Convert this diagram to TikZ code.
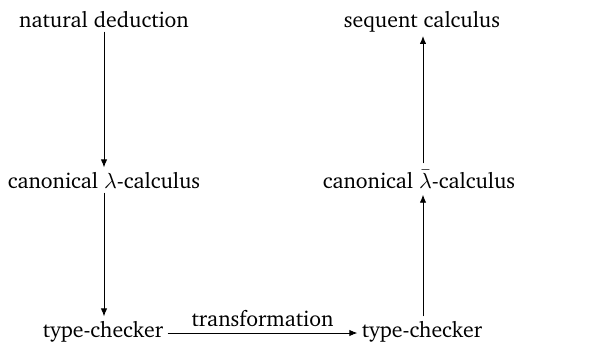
\documentclass[tikz,border=0pt]{standalone}
\usepackage[T1]{fontenc}
\usepackage{charter}
\usetikzlibrary{arrows.meta}
\begin{document}
\begin{tikzpicture}[x=0.5pt,y=-0.5pt,
  lbl/.style={inner sep=2pt, font=\fontsize{10.9}{13}\selectfont},
  arr/.style={-{Latex[length=4pt,width=3.2pt]}, line width=0.45pt}]
\useasboundingbox (0,0) rectangle (610,349);
\node[lbl, anchor=base] (nd) at (104,27) {natural deduction};
\node[lbl, anchor=base] (cl) at (104,188) {canonical $\lambda$-calculus};
\node[lbl, anchor=base] (tc1) at (103,337) {type-checker};
\node[lbl, anchor=base] (tc2) at (422,337) {type-checker};
\node[lbl, anchor=base, inner ysep=3pt] (lb) at (419,188) {canonical $\bar{\lambda}$-calculus};
\node[lbl, anchor=base] (sc) at (422,27) {sequent calculus};
\draw[arr] (nd.south -| 104,0) -- (cl.north -| 104,0);
\draw[arr] (cl.south -| 104,0) -- (tc1.north -| 104,0);
\draw[arr] (tc1.east |- 0,333) -- node[lbl, above, yshift=1pt] (tr) {transformation} (tc2.west |- 0,333);
\draw[arr] (tc2.north -| 423,0) -- (lb.south -| 423,0);
\draw[arr] (lb.north -| 423,0) -- (sc.south -| 423,0);
\end{tikzpicture}
\end{document}
